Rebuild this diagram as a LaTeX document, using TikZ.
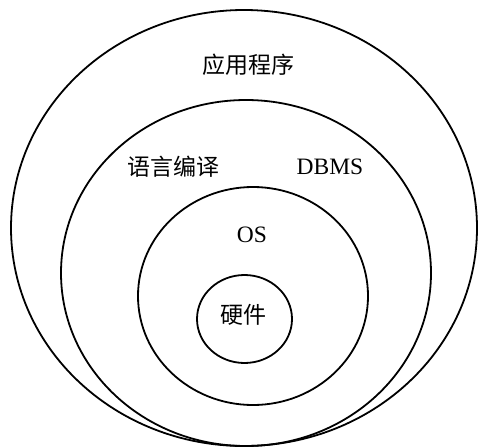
\documentclass[tikz,border=0pt]{standalone}
\usepackage{fontspec}
\setmainfont{Liberation Serif}
\newfontfamily\cjk{Noto Sans CJK SC}
\begin{document}
\begin{tikzpicture}[x=1pt,y=-1pt,
  ring/.style={draw=black,line width=1.8pt},
  cjklabel/.style={font=\cjk\fontsize{23}{23}\selectfont},
  latlabel/.style={font=\fontsize{23.5}{23.5}\selectfont}]
\useasboundingbox (0,0) rectangle (479,447);
\draw[ring] (244,228) ellipse [x radius=233, y radius=218];
\draw[ring] (246,273) ellipse [x radius=185, y radius=173];
\draw[ring] (253,296) ellipse [x radius=115, y radius=109];
\draw[ring] (244.5,319) ellipse [x radius=47.5, y radius=44];
\node[cjklabel] (app) at (248,65) {应用程序};
\node[cjklabel] (lang) at (173,167) {语言编译};
\node[latlabel] (dbms) at (330,167) {DBMS};
\node[latlabel] (os) at (252,235) {OS};
\node[cjklabel] (hw) at (243,315) {硬件};
\end{tikzpicture}
\end{document}
